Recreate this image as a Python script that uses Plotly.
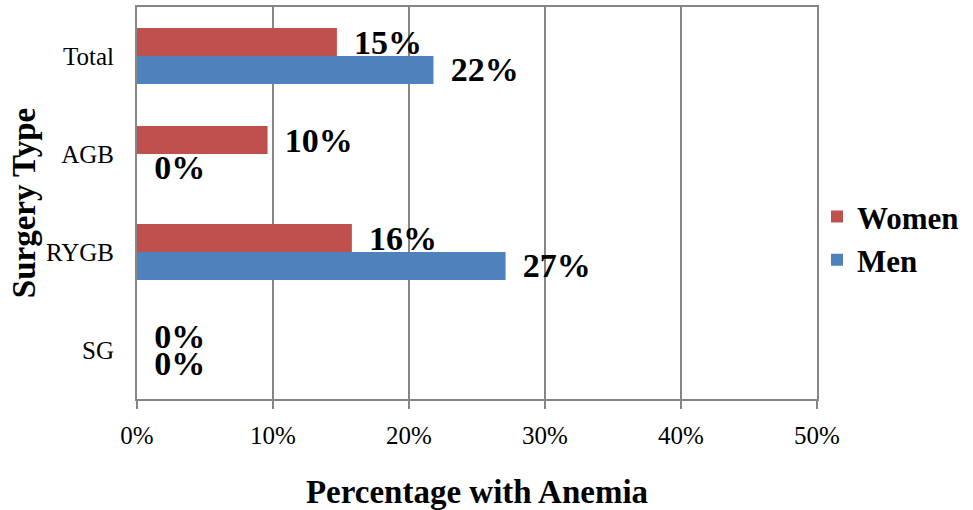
import plotly.graph_objects as go

categories = ["SG", "RYGB", "AGB", "Total"]
men = [0.0, 27.1, 0.0, 21.8]
women = [0.0, 15.8, 9.6, 14.7]
men_labels = ["0%", "27%", "0%", "22%"]
women_labels = ["0%", "16%", "10%", "15%"]
x_ticks = [0, 10, 20, 30, 40, 50]
x_ticklabels = ["0%", "10%", "20%", "30%", "40%", "50%"]

SERIF = "Liberation Serif"
pad = "\u00a0\u2006"

fig = go.Figure()
fig.add_trace(go.Bar(
    y=categories, x=men, name="Men", orientation="h",
    marker=dict(color="#4F81BD", line=dict(width=0)),
    text=[pad + t for t in men_labels], textposition="outside",
    textfont=dict(family=SERIF, size=34, color="black", weight="bold"),
    constraintext="none", cliponaxis=False, legendgroup="m",
))
fig.add_trace(go.Bar(
    y=categories, x=women, name="Women", orientation="h",
    marker=dict(color="#C0504D", line=dict(width=0)),
    text=[pad + t for t in women_labels], textposition="outside",
    textfont=dict(family=SERIF, size=34, color="black", weight="bold"),
    constraintext="none", cliponaxis=False, legendgroup="w",
))

fig.update_layout(
    width=973, height=510,
    margin=dict(l=137, r=156, t=5, b=111),
    paper_bgcolor="white", plot_bgcolor="white",
    barmode="group", bargap=0.43, bargroupgap=0,
    font=dict(family=SERIF, color="black"),
    legend=dict(
        traceorder="reversed", bgcolor="rgba(0,0,0,0)",
        x=1.0, xanchor="left", y=0.41, yanchor="middle",
        font=dict(family=SERIF, size=31, color="black", weight="bold"),
        tracegroupgap=14, itemwidth=30,
    ),
    xaxis=dict(
        range=[0, 50], tickvals=x_ticks, ticktext=x_ticklabels,
        showgrid=True, gridcolor="#868686", gridwidth=2,
        showline=True, linecolor="#868686", linewidth=2, mirror=True,
        ticks="outside", ticklen=8, tickwidth=2, tickcolor="#868686",
        tickfont=dict(family=SERIF, size=25, color="black"),
        ticklabelstandoff=5,
        zeroline=False,
        title=dict(text="Percentage with Anemia", standoff=32,
                   font=dict(family=SERIF, size=33, color="black", weight="bold")),
    ),
    yaxis=dict(
        showgrid=False, showline=True, linecolor="#868686", linewidth=2, mirror=True,
        ticks="", tickfont=dict(family=SERIF, size=25, color="black"),
        ticklabelstandoff=16,
        title=dict(text="Surgery Type", standoff=0,
                   font=dict(family=SERIF, size=33, color="black", weight="bold")),
    ),
)

fig.write_html("out.html")
